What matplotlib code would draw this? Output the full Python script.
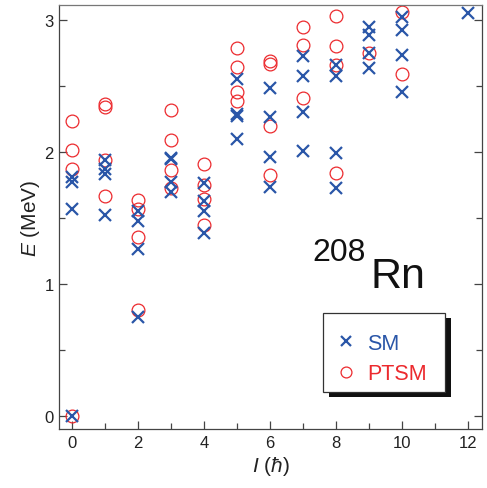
import matplotlib
matplotlib.use("Agg")
import matplotlib.pyplot as plt
from matplotlib.patches import Rectangle
from matplotlib.ticker import MultipleLocator

plt.rcParams['font.family'] = ['Liberation Sans', 'DejaVu Sans']
plt.rcParams['mathtext.fontset'] = 'custom'
plt.rcParams['mathtext.rm'] = 'Liberation Sans'
plt.rcParams['mathtext.it'] = 'Liberation Sans:italic'

# ---- data ----
sm_I = [0, 0, 0, 0,
        1, 1, 1, 1,
        2, 2, 2, 2,
        3, 3, 3, 3,
        4, 4, 4, 4,
        5, 5, 5, 5,
        6, 6, 6, 6,
        7, 7, 7, 7,
        8, 8, 8, 8,
        9, 9, 9, 9,
        10, 10, 10, 10,
        12]
sm_E = [0.0, 1.57, 1.77, 1.81,
        1.52, 1.83, 1.87, 1.94,
        0.75, 1.265, 1.48, 1.555,
        1.70, 1.77, 1.945, 1.955,
        1.39, 1.555, 1.63, 1.765,
        2.10, 2.27, 2.29, 2.555,
        1.733, 1.965, 2.263, 2.482,
        2.01, 2.305, 2.578, 2.725,
        1.725, 1.992, 2.573, 2.659,
        2.636, 2.747, 2.886, 2.944,
        2.452, 2.735, 2.927, 3.02,
        3.055]

ptsm_I = [0, 0, 0, 0,
          1, 1, 1, 1,
          2, 2, 2, 2,
          3, 3, 3, 3,
          4, 4, 4, 4,
          5, 5, 5, 5,
          6, 6, 6, 6,
          7, 7, 7,
          8, 8, 8, 8,
          9,
          10, 10]
ptsm_E = [0.0, 1.868, 2.018, 2.236,
          1.664, 1.939, 2.338, 2.36,
          0.80, 1.355, 1.57, 1.635,
          1.728, 1.866, 2.09, 2.318,
          1.45, 1.645, 1.748, 1.91,
          2.383, 2.455, 2.646, 2.785,
          1.826, 2.199, 2.667, 2.692,
          2.407, 2.813, 2.944,
          1.838, 2.659, 2.806, 3.028,
          2.747,
          2.591, 3.058]

x_ticks = [0, 2, 4, 6, 8, 10, 12]
y_ticks = [0, 1, 2, 3]

blue = '#2a56a8'
red = '#ec2a2e'
spine_c = '#444444'

fig = plt.figure(figsize=(4.87, 4.89), dpi=100)
ax = fig.add_axes([0.122, 0.120, 0.867, 0.867])

ax.plot(ptsm_I, ptsm_E, linestyle='none', marker='o', markersize=9.2,
        markerfacecolor='none', markeredgecolor=red, markeredgewidth=0.9,
        label='PTSM', zorder=2)
ax.plot(sm_I, sm_E, linestyle='none', marker='x', markersize=8.3,
        color=blue, markeredgewidth=1.6, label='SM', zorder=3)

ax.set_xlim(-0.385, 12.41)
ax.set_ylim(-0.10, 3.11)
ax.set_xticks(x_ticks)
ax.set_yticks(y_ticks)
ax.xaxis.set_minor_locator(MultipleLocator(1))
ax.yaxis.set_minor_locator(MultipleLocator(0.5))
ax.tick_params(which='both', direction='in', color=spine_c, width=0.9,
               right=True, top=False, labelsize=12, labelcolor='#222222')
ax.tick_params(which='major', length=5.5, pad=4)
ax.tick_params(which='minor', length=4)
for s in ax.spines.values():
    s.set_color(spine_c)
    s.set_linewidth(0.9)
ax.spines['top'].set_color('#777777')

ax.set_xlabel(r'$I$ ($ħ$)', fontsize=15, color='#222222', labelpad=3)
ax.set_ylabel(r'$E$ (MeV)', fontsize=15, color='#222222', labelpad=2)

# nucleus label
ax.text(0.599, 0.400, '208', transform=ax.transAxes, fontsize=23,
        color='#111111', ha='left', va='baseline')
ax.text(0.737, 0.336, 'Rn', transform=ax.transAxes, fontsize=31,
        color='#111111', ha='left', va='baseline')

# legend frame with shadow
bx0, bx1, by0, by1 = 0.625, 0.913, 0.0873, 0.2744
ax.add_patch(Rectangle((bx0 + 0.0145, by0 - 0.0120), bx1 - bx0, by1 - by0,
                       transform=ax.transAxes, facecolor='#111111',
                       edgecolor='none', zorder=5))
ax.add_patch(Rectangle((bx0, by0), bx1 - bx0, by1 - by0,
                       transform=ax.transAxes, facecolor='white',
                       edgecolor='#333333', linewidth=0.9, zorder=6))
h, l = ax.get_legend_handles_labels()
leg = ax.legend(h[::-1], l[::-1], loc='center',
                bbox_to_anchor=((bx0 + bx1) / 2 - 0.006, (by0 + by1) / 2 - 0.014),
                frameon=False, fontsize=15.5, handlelength=0.9,
                handletextpad=0.5, labelspacing=0.45, markerscale=0.85)
leg.set_zorder(7)
for txt, c in zip(leg.get_texts(), [blue, red]):
    txt.set_color(c)

fig.savefig('out.png', dpi=100)
